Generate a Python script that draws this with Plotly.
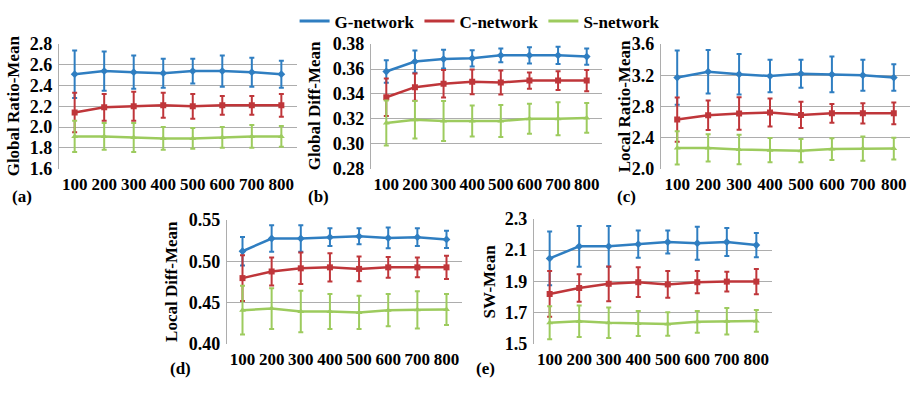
import plotly.graph_objects as go

sizes = ["100", "200", "300", "400", "500", "600", "700", "800"]
series_names = ["G-network", "C-network", "S-network"]
colors = ["#2F7EC1", "#BF363A", "#9DCB5E"]
symbols = ["diamond", "square", "triangle-up"]

# Panel (a) Global Ratio-Mean
a_G = [2.51, 2.54, 2.53, 2.52, 2.54, 2.54, 2.53, 2.51]
a_G_err = [0.23, 0.19, 0.16, 0.14, 0.12, 0.15, 0.14, 0.13]
a_C = [2.14, 2.19, 2.20, 2.21, 2.20, 2.21, 2.21, 2.21]
a_C_err = [0.19, 0.13, 0.14, 0.12, 0.12, 0.09, 0.09, 0.11]
a_S = [1.91, 1.91, 1.90, 1.89, 1.89, 1.90, 1.91, 1.91]
a_S_err = [0.15, 0.13, 0.14, 0.11, 0.10, 0.10, 0.11, 0.10]

# Panel (b) Global Diff-Mean
b_G = [0.358, 0.366, 0.368, 0.3686, 0.371, 0.371, 0.371, 0.370]
b_G_err = [0.009, 0.009, 0.0075, 0.0065, 0.0055, 0.0065, 0.007, 0.0065]
b_C = [0.3373, 0.3454, 0.3482, 0.3497, 0.3492, 0.3507, 0.3507, 0.3507]
b_C_err = [0.015, 0.011, 0.011, 0.010, 0.0097, 0.0065, 0.0075, 0.0085]
b_S = [0.3166, 0.3192, 0.3182, 0.3182, 0.3182, 0.3200, 0.3200, 0.3207]
b_S_err = [0.018, 0.015, 0.016, 0.0125, 0.0128, 0.012, 0.0133, 0.012]

# Panel (c) Local Ratio-Mean
c_G = [3.17, 3.246, 3.213, 3.19, 3.22, 3.21, 3.20, 3.17]
c_G_err = [0.35, 0.28, 0.26, 0.21, 0.18, 0.23, 0.20, 0.17]
c_C = [2.63, 2.684, 2.708, 2.72, 2.69, 2.71, 2.71, 2.71]
c_C_err = [0.285, 0.19, 0.21, 0.18, 0.17, 0.12, 0.13, 0.14]
c_S = [2.265, 2.265, 2.244, 2.236, 2.23, 2.25, 2.256, 2.256]
c_S_err = [0.215, 0.175, 0.19, 0.155, 0.15, 0.14, 0.155, 0.14]

# Panel (d) Local Diff-Mean
d_G = [0.512, 0.5274, 0.5274, 0.529, 0.530, 0.528, 0.529, 0.5263]
d_G_err = [0.0173, 0.016, 0.016, 0.0107, 0.0097, 0.0125, 0.0107, 0.0103]
d_C = [0.4796, 0.4876, 0.4914, 0.4926, 0.4907, 0.4926, 0.4926, 0.4926]
d_C_err = [0.0275, 0.017, 0.019, 0.017, 0.015, 0.0125, 0.012, 0.014]
d_S = [0.4409, 0.4428, 0.4393, 0.4393, 0.4382, 0.4409, 0.4413, 0.4417]
d_S_err = [0.0294, 0.0245, 0.025, 0.021, 0.020, 0.0195, 0.0225, 0.0188]

# Panel (e) SW-Mean
e_G = [2.047, 2.124, 2.124, 2.138, 2.152, 2.144, 2.152, 2.132]
e_G_err = [0.172, 0.13, 0.13, 0.087, 0.073, 0.105, 0.09, 0.077]
e_C = [1.82, 1.858, 1.885, 1.895, 1.881, 1.895, 1.899, 1.899]
e_C_err = [0.146, 0.088, 0.111, 0.095, 0.085, 0.071, 0.063, 0.081]
e_S = [1.636, 1.646, 1.636, 1.632, 1.628, 1.642, 1.646, 1.648]
e_S_err = [0.105, 0.10, 0.097, 0.08, 0.075, 0.07, 0.085, 0.07]

y_titles = ["Global Ratio-Mean", "Global Diff-Mean", "Local Ratio-Mean", "Local Diff-Mean", "SW-Mean"]
panel_labels = ["(a)", "(b)", "(c)", "(d)", "(e)"]
y_ranges = [[1.6, 2.8], [0.28, 0.38], [2.0, 3.6], [0.40, 0.55], [1.5, 2.3]]
y_dticks = [0.2, 0.02, 0.4, 0.05, 0.2]
y_formats = [".1f", ".2f", ".1f", ".2f", ".1f"]

panels = [
    [(a_G, a_G_err), (a_C, a_C_err), (a_S, a_S_err)],
    [(b_G, b_G_err), (b_C, b_C_err), (b_S, b_S_err)],
    [(c_G, c_G_err), (c_C, c_C_err), (c_S, c_S_err)],
    [(d_G, d_G_err), (d_C, d_C_err), (d_S, d_S_err)],
    [(e_G, e_G_err), (e_C, e_C_err), (e_S, e_S_err)],
]

W, H = 917, 393
# plot areas in pixels: (left, right, top, bottom)
boxes = [(59, 297, 36, 167), (371, 602, 36, 167), (661, 910, 36, 167),
         (227, 462, 221, 352), (534, 772, 220, 352)]
title_x = [13, 314, 624, 172, 489]
label_pos = [(22, 196), (318, 196), (626, 196), (180, 378), (486, 378)]

FONT = "Liberation Serif, Times New Roman, serif"
fig = go.Figure()
layout = {}
annotations = []

for i, (box, data) in enumerate(zip(boxes, panels)):
    l, r, t, b = box
    xa = "x" if i == 0 else f"x{i+1}"
    ya = "y" if i == 0 else f"y{i+1}"
    xkey = "xaxis" if i == 0 else f"xaxis{i+1}"
    ykey = "yaxis" if i == 0 else f"yaxis{i+1}"
    for j, (vals, errs) in enumerate(data):
        fig.add_trace(go.Scatter(
            x=sizes, y=vals, mode="lines+markers",
            line=dict(color=colors[j], width=2.5),
            marker=dict(symbol=symbols[j], size=6, color=colors[j]),
            error_y=dict(type="data", array=errs, visible=True, color=colors[j],
                         thickness=2, width=2.5),
            xaxis=xa, yaxis=ya, showlegend=False, name=series_names[j]))
    layout[xkey] = dict(domain=[l / W, r / W], anchor=ya, type="category",
                        showgrid=False, showline=False, zeroline=False,
                        ticks="", ticklabelstandoff=3, tickangle=0,
                        tickfont=dict(family=FONT, size=17, color="#000", weight="bold"),
                        fixedrange=True)
    layout[ykey] = dict(domain=[1 - b / H, 1 - t / H], anchor=xa,
                        range=y_ranges[i], dtick=y_dticks[i], tick0=y_ranges[i][0],
                        tickformat=y_formats[i], showgrid=True, gridcolor="#ADADAD",
                        gridwidth=1.3, showline=True, linecolor="#ADADAD", linewidth=1.3,
                        zeroline=False, ticks="", ticklabelstandoff=2,
                        tickfont=dict(family=FONT, size=18, color="#000", weight="bold"),
                        fixedrange=True)
    annotations.append(dict(x=title_x[i] / W, y=1 - ((t + b) / 2) / H, xref="paper", yref="paper",
                            text=y_titles[i], textangle=-90, showarrow=False,
                            font=dict(family=FONT, size=17, color="#000", weight="bold"),
                            xanchor="center", yanchor="middle"))
    lx, ly = label_pos[i]
    annotations.append(dict(x=lx / W, y=1 - ly / H, xref="paper", yref="paper",
                            text=panel_labels[i], showarrow=False,
                            font=dict(family=FONT, size=17, color="#000", weight="bold"),
                            xanchor="center", yanchor="middle"))

for j in range(3):
    fig.add_trace(go.Scatter(x=[None], y=[None], mode="lines", name=series_names[j],
                             line=dict(color=colors[j], width=3), showlegend=True))

fig.update_layout(
    width=W, height=H, margin=dict(l=0, r=0, t=0, b=0),
    paper_bgcolor="white", plot_bgcolor="white",
    annotations=annotations,
    legend=dict(orientation="h", x=0.523, y=1 - 12 / H, xanchor="center", yanchor="middle",
                font=dict(family=FONT, size=17, color="#000", weight="bold"),
                itemwidth=30, tracegroupgap=0, bgcolor="rgba(0,0,0,0)"),
    **layout,
)

fig.write_html("out.html", config={"displayModeBar": False},
               post_script="document.body.style.margin='0';document.body.style.overflow='hidden';")
